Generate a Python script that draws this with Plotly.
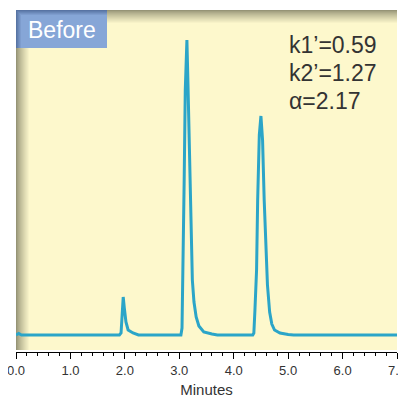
import plotly.graph_objects as go

# Chromatogram trace (minutes vs detector response, arbitrary units)
time_min = [0.00, 0.05, 0.10, 1.90, 1.93, 1.95, 1.97, 1.99, 2.02, 2.06, 2.15, 2.25,
            3.03, 3.05, 3.07, 3.09, 3.11, 3.14, 3.16, 3.18, 3.21, 3.24, 3.27, 3.31,
            3.36, 3.45, 3.60, 3.70,
            4.35, 4.37, 4.39, 4.42, 4.44, 4.47, 4.50, 4.53, 4.56, 4.59, 4.62, 4.66,
            4.70, 4.75, 4.85, 5.00, 5.10, 7.00]
response = [15, 16.5, 15, 15, 17, 35, 53, 42, 28, 20, 17, 15,
            15, 22, 80, 170, 260, 310, 265, 210, 120, 70, 48, 33,
            24, 18, 16, 15,
            15, 17, 40, 80, 150, 215, 234, 210, 150, 100, 65, 38,
            26, 20, 17, 15.5, 15, 15]

x_ticks = [0, 1, 2, 3, 4, 5, 6, 7]
x_tick_labels = ["0.0", "1.0", "2.0", "3.0", "4.0", "5.0", "6.0", "7.0"]
stats_lines = ["k1\u2019=0.59", "k2\u2019=1.27", "\u03b1=2.17"]
panel_label = "Before"
x_title = "Minutes"

# page body has an 8px margin: build the figure 8px smaller and work in screen pixels
OFF = 8
W, H = 406 - OFF, 398 - OFF
SCR_L, SCR_R, SCR_T, SCR_B = 16, 397, 10, 352   # plot area in screen pixels
ML, MT = SCR_L - OFF, SCR_T - OFF
MR = W - (SCR_R - OFF)
MB = H - (SCR_B - OFF)
PW, PH = W - ML - MR, H - MT - MB

def px_x(p):
    return (p - SCR_L) / PW

def px_y(p):
    return (SCR_B - p) / PH

FONT = "Arial, Liberation Sans, sans-serif"

fig = go.Figure()
fig.add_trace(go.Scatter(x=time_min, y=response, mode="lines",
                         line=dict(color="#2ba5c8", width=3), hoverinfo="skip"))

shapes = []
yellow = "#fdf8cc"
shapes.append(dict(type="rect", xref="paper", yref="paper", layer="below",
                   x0=0, x1=1, y0=px_y(350), y1=1, fillcolor=yellow, line_width=0))

def mix(c1, c2, t):
    return "rgb(%d,%d,%d)" % tuple(round(a + (b - a) * t) for a, b in zip(c1, c2))

dark = (150, 148, 118)
yl = (253, 248, 204)
n = 14
for i in range(n):
    t = (i / (n - 1)) ** 0.8
    col = mix(dark, yl, t)
    shapes.append(dict(type="rect", xref="paper", yref="paper", layer="below",
                       x0=0, x1=1, y0=px_y(SCR_T + i + 1), y1=px_y(SCR_T + i),
                       fillcolor=col, line_width=0))
for i in range(n):
    t = (i / (n - 1)) ** 0.8
    col = mix(dark, yl, t)
    shapes.append(dict(type="rect", xref="paper", yref="paper", layer="below",
                       x0=px_x(SCR_L + i), x1=px_x(SCR_L + i + 1), y0=px_y(350), y1=px_y(SCR_T + i),
                       fillcolor=col, line_width=0))

blue_dark = (88, 116, 164)
blue = (134, 166, 215)
for i in range(6):
    col = mix(blue_dark, blue, i / 5)
    shapes.append(dict(type="rect", xref="paper", yref="paper", layer="above",
                       x0=px_x(SCR_L + i), x1=px_x(107), y0=px_y(48), y1=px_y(SCR_T + i),
                       fillcolor=col, line_width=0))

annotations = [dict(xref="paper", yref="paper", x=px_x(26), y=px_y(30),
                    xanchor="left", yanchor="middle", showarrow=False,
                    text=panel_label, font=dict(family=FONT, size=23, color="white"))]
for i, s in enumerate(stats_lines):
    annotations.append(dict(xref="paper", yref="paper", x=px_x(287), y=px_y(45 + 28 * i),
                            xanchor="left", yanchor="middle", showarrow=False,
                            text=s, font=dict(family=FONT, size=23, color="#333333")))

fig.update_layout(
    width=W, height=H,
    margin=dict(l=ML, r=MR, t=MT, b=MB, autoexpand=False),
    paper_bgcolor="white", plot_bgcolor="rgba(0,0,0,0)",
    showlegend=False,
    shapes=shapes, annotations=annotations,
    xaxis=dict(range=[0, 7], tickvals=x_ticks, ticktext=x_tick_labels,
               automargin=False, ticklabeloverflow="allow",
               ticks="outside", ticklen=6, tickcolor="black", tickwidth=1,
               showline=True, linecolor="black", linewidth=1,
               showgrid=False, zeroline=False,
               minor=dict(dtick=0.2, ticks="outside", ticklen=3, tickcolor="black", showgrid=False),
               tickfont=dict(family=FONT, size=13, color="#333333"),
               title=dict(text=x_title, standoff=11, font=dict(family=FONT, size=15, color="#333333"))),
    yaxis=dict(range=[-2, 340], visible=False, automargin=False),
)

fig.write_html("out.html")
